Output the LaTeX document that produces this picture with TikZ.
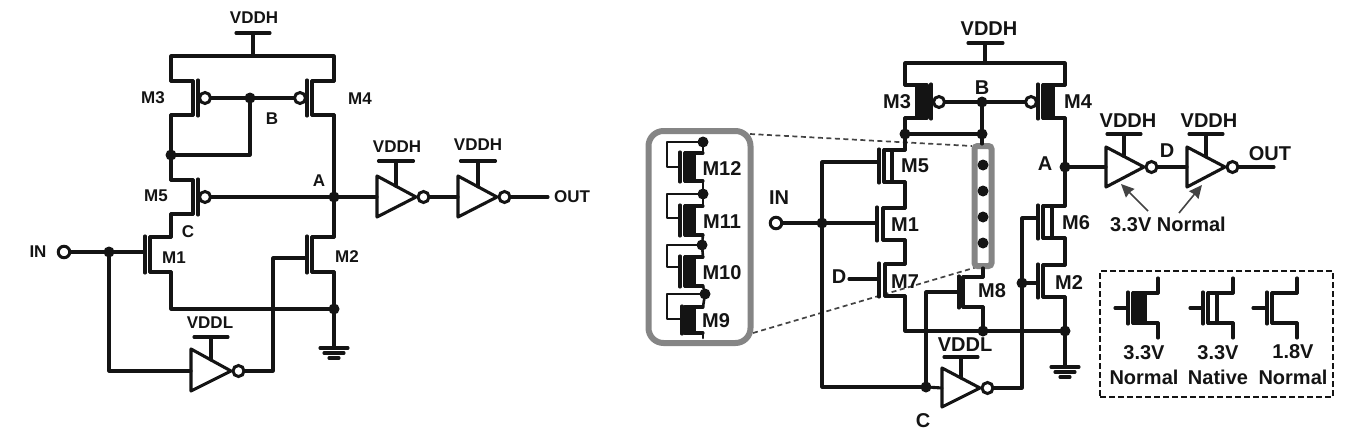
\documentclass[tikz,border=0pt]{standalone}
\usepackage{fontspec}
\setmainfont{Liberation Sans}
\usetikzlibrary{arrows.meta}
\definecolor{ink}{HTML}{141414}
\definecolor{boxgray}{HTML}{858585}
\tikzset{
  wire/.style={draw=ink,line width=3.1pt,line cap=round,line join=round},
  thinwire/.style={wire,line width=2.6pt},
  dot/.style={circle,fill=ink,draw=none,minimum size=11pt,inner sep=0pt,outer sep=0pt},
  dotl/.style={dot,minimum size=11pt},
  bubble/.style={circle,draw=ink,line width=3pt,fill=white,minimum size=11pt,inner sep=0pt,outer sep=0pt},
  ringin/.style={bubble,minimum size=11.5pt},
  lblL/.style={inner sep=0pt,text=ink,font=\fontsize{17}{17}\selectfont\bfseries},
  lblR/.style={inner sep=0pt,text=ink,font=\fontsize{20}{20}\selectfont\bfseries},
  zoomline/.style={draw=ink!80,line width=1.7pt,dash pattern=on 5pt off 3.5pt},
  graybox/.style={draw=boxgray,line width=6pt,fill=white,inner sep=0pt,outer sep=0pt},
  pointer/.style={draw=ink!80,line width=1.6pt,-{Stealth[length=13pt,width=12pt,inset=1pt]}},
  legendbox/.style={draw=ink,line width=2.4pt,dash pattern=on 6pt off 3pt,inner sep=0pt,outer sep=0pt},
}
% [channel fill]{name}{gate x}{chan x}{chan x2}{y top}{y bottom}{rail x}{gate y}
\newcommand\mosdev[9][fill=none]{%
  \coordinate (#2-g) at (#3,#9);
  \coordinate (#2-d) at (#8,#6);
  \coordinate (#2-s) at (#8,#7);
  \draw[wire] (#4,#6) -- (#2-d);
  \draw[wire] (#4,#7) -- (#2-s);
  \draw[wire,#1] (#4,#6) rectangle (#5,#7);
  \draw[wire] (#3,#6-1) -- (#3,#7+1);
}
% {name}{x}{y top}{y bottom}{x tip}{y mid}{stem x}{bar half width}{bar y}
\newcommand\invdev[9]{%
  \coordinate (#1-in) at (#2,#6);
  \coordinate (#1-bar) at (#7,#9);
  \draw[wire] (#2,#3) -- (#2,#4) -- (#5,#6) -- cycle;
  \node[bubble] (#1-o) at (#5+7.5,#6) {};
  \draw[wire] (#1-bar) -- (#7,{#3+(#7-#2)*(#6-#3)/(#5-#2)});
  \draw[wire] (#7-#8,#9) -- (#7+#8,#9);
}
\newcommand\gnddev[2]{%
  \draw[wire] (#1,#2) ++(-14,0) -- ++(28,0);
  \draw[wire] (#1,#2) ++(-10,5) -- ++(20,0);
  \draw[wire] (#1,#2) ++(-5,10) -- ++(10,0);
}
\begin{document}
\begin{tikzpicture}[x=1pt,y=-1pt]
\useasboundingbox (0,0) rectangle (1369,442);

%%% LEFT CIRCUIT
\coordinate (LtopL) at (171,56);
\coordinate (LtopR) at (334,56);
\coordinate (Lvdd) at (253,56);
\coordinate (Lvddbar) at (253,33);
\draw[wire] (236,33) -- (270,33);
\draw[wire] (Lvddbar) -- (Lvdd);
\mosdev{LM3}{198}{193}{193}{81}{115}{171}{98}
\mosdev{LM4}{307}{312}{312}{81}{115}{334}{98}
\mosdev{LM5}{198}{193}{193}{180}{214}{171}{197}
\mosdev{LM1}{145}{150}{150}{237}{272}{171}{252}
\mosdev{LM2}{307}{312}{312}{237}{272}{334}{258}
\draw[wire] (LM3-d) -- (LtopL) -- (LtopR) -- (LM4-d);
\node[bubble] (LM3b) at (205,98) {};
\node[bubble] (LM4b) at (300,98) {};
\node[bubble] (LM5b) at (205,197) {};
\node[dotl] (LB) at (250,98) {};
\node[dotl] (LJ) at (171,155) {};
\node[dotl] (LA) at (334,197) {};
\node[dotl] (LG) at (334,309) {};
\node[dotl] (LIN) at (109,252) {};
\node[ringin] (Lin) at (64,252) {};
\draw[wire] (LM3b) -- (LB) -- (LM4b);
\draw[wire] (LB) |- (LJ);
\draw[wire] (LM3-s) -- (LJ) -- (LM5-d);
\draw[wire] (LM5b) -- (LA);
\draw[wire] (LM4-s) -- (LA) -- (LM2-d);
\draw[wire] (LM5-s) -- (LM1-d);
\draw[wire] (LM1-s) |- (LG);
\draw[wire] (LM2-s) -- (LG);
\coordinate (Lgnd) at (334,348);
\draw[wire] (LG) -- (Lgnd);
\gnddev{334}{348}
\draw[wire] (Lin) -- (LIN) -- (LM1-g);
\invdev{LI3}{191}{349}{391}{231}{371}{211}{17}{337}
\draw[wire] (LIN) |- (LI3-in);
\coordinate (LI3c) at (273,371);
\draw[wire] (LI3-o) -- (LI3c) |- (LM2-g);
\invdev{LI1}{377}{176}{217}{416}{197}{396}{17.5}{161}
\invdev{LI2}{458}{176}{217}{497}{197}{478}{17.5}{161}
\coordinate (Lout) at (548,197);
\draw[wire] (LA) -- (LI1-in);
\draw[wire] (LI1-o) -- (LI2-in);
\draw[wire] (LI2-o) -- (Lout);

\node[lblL] (t1) at (254,18) {VDDH};
\node[lblL] (t2) at (153,98) {M3};
\node[lblL] (t3) at (360,99) {M4};
\node[lblL] (t4) at (272,119) {B};
\node[lblL] (t5) at (319,181) {A};
\node[lblL] (t6) at (156,196) {M5};
\node[lblL] (t7) at (188,232) {C};
\node[lblL] (t8) at (174,258) {M1};
\node[lblL] (t9) at (347,257) {M2};
\node[lblL] (t10) at (38,252) {IN};
\node[lblL] (t11) at (210,323) {VDDL};
\node[lblL] (t12) at (397,147) {VDDH};
\node[lblL] (t13) at (478,145) {VDDH};
\node[lblL] (t14) at (572,197) {OUT};

%%% RIGHT CIRCUIT
\coordinate (Rz1) at (750,134);
\coordinate (Rz2) at (972,146);
\coordinate (Rz3) at (753,333);
\coordinate (Rz4) at (977,267);
\draw[zoomline] (Rz1) -- (Rz2);
\draw[zoomline] (Rz3) -- (Rz4);

% magnified stack
\node[graybox,rounded corners=15pt,minimum width=102pt,minimum height=212pt] (big) at (699.5,237) {};
\newcommand\stackdev[9]{%
  \mosdev[fill=ink]{#1}{#2}{685}{694}{#3}{#4}{703}{#5}
  \node[dotl] (#1-t) at (#6,#7) {};
  \coordinate (#1-c) at (667,#7);
  \draw[thinwire] (#1-t) -- (#1-c) |- (#1-g);
  \draw[thinwire] (#1-t) -- (#1-d);
  \node[lblR] (#1-l) at (#8,#9) {\MakeUppercase{#1}};
}
\stackdev{m12}{680}{153}{181}{167}{703}{142}{722}{169}
\stackdev{m11}{680}{206}{235}{218}{703}{194}{722}{222}
\stackdev{m10}{680}{257}{286}{267}{702}{245}{722}{273}
\stackdev{m9}{682}{307}{333}{319}{705}{294}{716}{321}
\draw[thinwire] (m12-s) -- (m11-t);
\draw[thinwire] (m11-s) -- (m10-t);
\draw[thinwire] (m10-s) -- (m9-t);
\coordinate (m9end) at (703,338);
\draw[thinwire] (m9-s) -- (m9end);

% narrow gray box
\node[graybox,rounded corners=3pt,minimum width=17pt,minimum height=120pt] (slim) at (983,206) {};
\node[dotl] (s1) at (983,165) {};
\node[dotl] (s2) at (983,191) {};
\node[dotl] (s3) at (983,217) {};
\node[dotl] (s4) at (983,243) {};

\coordinate (RtopL) at (905,63);
\coordinate (RtopR) at (1065,63);
\coordinate (Rvdd) at (985,63);
\coordinate (Rvddbar) at (985,43);
\draw[wire] (968,43) -- (1003,43);
\draw[wire] (Rvddbar) -- (Rvdd);
\mosdev[fill=ink]{M3}{931}{917}{927}{85}{118}{905}{102}
\mosdev[fill=ink]{M4}{1038}{1043}{1053}{85}{118}{1065}{102}
\mosdev[fill=white]{M5}{879}{884}{892}{150}{182}{905}{162}
\mosdev{M1}{877}{883}{883}{208}{240}{905}{223}
\mosdev{M7}{879}{885}{885}{264}{296}{905}{279}
\mosdev{M8}{959}{963}{963}{277}{307}{983}{292}
\mosdev[fill=white]{M6}{1038}{1043}{1052}{206}{238}{1065}{218}
\mosdev{M2}{1038}{1043}{1043}{265}{297}{1065}{283}
\draw[wire] (M3-d) -- (RtopL) -- (RtopR) -- (M4-d);
\node[bubble] (M3b) at (939,102) {};
\node[bubble] (M4b) at (1031,102) {};
\node[dotl] (RB) at (982,102) {};
\node[dotl] (RJ1) at (905,134) {};
\node[dotl] (RJ2) at (982,134) {};
\node[dotl] (RA) at (1065,167) {};
\node[dotl] (RIN) at (822,223) {};
\node[ringin] (Rin) at (776,223) {};
\node[dotl] (RS) at (983,331) {};
\node[dotl] (RG) at (1065,331) {};
\node[dotl] (RC) at (926,387) {};
\node[dotl] (RI) at (1022,283) {};
\draw[wire] (M3b) -- (RB) -- (M4b);
\draw[wire] (RB) -- (RJ2) -- (RJ1);
\coordinate (slimtop) at (982,144);
\draw[wire] (RJ2) -- (slimtop);
\draw[wire] (M3-s) -- (RJ1) -- (M5-d);
\draw[wire] (M5-s) -- (M1-d);
\draw[wire] (M1-s) -- (M7-d);
\draw[wire] (M4-s) -- (RA) -- (M6-d);
\draw[wire] (M6-s) -- (M2-d);
\draw[wire] (M2-s) -- (RG);
\draw[wire] (M7-s) |- (RS);
\draw[wire] (RS) -- (RG);
\draw[wire] (M8-s) -- (RS);
\coordinate (slimbot) at (983,268);
\draw[wire] (slimbot) -- (M8-d);
\draw[wire] (RG) -- (1065,367);
\gnddev{1065}{367}
\coordinate (RLtop) at (822,162);
\draw[wire] (M5-g) -- (RLtop) -- (RIN);
\draw[wire] (Rin) -- (RIN) -- (M1-g);
\coordinate (RLbot) at (822,387);
\draw[wire] (RIN) -- (RLbot) -- (RC);
\invdev{RI3}{942}{368}{407}{980}{388}{961}{17}{357}
\draw[wire] (RC) -- (RI3-in);
\coordinate (M8up) at (926,292);
\draw[wire] (RC) -- (M8up) -- (M8-g);
\coordinate (RI3c) at (1022,388);
\coordinate (M6up) at (1022,218);
\draw[wire] (RI3-o) -- (RI3c) -- (M6up) -- (M6-g);
\draw[wire] (RI) -- (M2-g);
\coordinate (Dend) at (849,279);
\draw[wire] (Dend) -- (M7-g);
\invdev{RI1}{1106}{147}{187}{1144}{167}{1124}{17}{134}
\invdev{RI2}{1187}{147}{187}{1225}{167}{1206}{17}{134}
\coordinate (Rout) at (1274,167);
\draw[wire] (RA) -- (RI1-in);
\draw[wire] (RI1-o) -- (RI2-in);
\draw[wire] (RI2-o) -- (Rout);
\coordinate (A1s) at (1148,211);
\coordinate (A1e) at (1121,184);
\coordinate (A2s) at (1179,213);
\coordinate (A2e) at (1202,185);
\draw[pointer] (A1s) -- (A1e);
\draw[pointer] (A2s) -- (A2e);

\node[lblR] (r1) at (989,29) {VDDH};
\node[lblR] (r2) at (982,88) {B};
\node[lblR] (r3) at (897,102) {M3};
\node[lblR] (r4) at (1078,102) {M4};
\node[lblR] (r5) at (1045,164) {A};
\node[lblR] (r6) at (915,166) {M5};
\node[lblR] (r7) at (779,198) {IN};
\node[lblR] (r8) at (905,225) {M1};
\node[lblR] (r9) at (1076,223) {M6};
\node[lblR] (r10) at (839,277) {D};
\node[lblR] (r11) at (905,282) {M7};
\node[lblR] (r12) at (992,291) {M8};
\node[lblR] (r13) at (1069,283) {M2};
\node[lblR] (r14) at (965,345) {VDDL};
\node[lblR] (r15) at (923,421) {C};
\node[lblR] (r16) at (1128,121) {VDDH};
\node[lblR] (r17) at (1209,121) {VDDH};
\node[lblR] (r18) at (1167,151) {D};
\node[lblR] (r19) at (1270,154) {OUT};
\node[lblR] (r20) at (1168,224) {3.3V Normal};

%%% LEGEND
\node[legendbox,minimum width=233pt,minimum height=126pt] (legend) at (1216.5,334) {};
\mosdev[fill=ink]{K1}{1128}{1133}{1145}{293}{323}{1158}{308}
\mosdev[fill=white]{K2}{1203}{1208}{1217}{293}{323}{1233}{308}
\mosdev{K3}{1267}{1272}{1272}{293}{323}{1297}{308}
\coordinate (K1a) at (1115,308);
\coordinate (K2a) at (1190,308);
\coordinate (K3a) at (1253,308);
\draw[wire] (K1a) -- (K1-g);
\draw[wire] (K2a) -- (K2-g);
\draw[wire] (K3a) -- (K3-g);
\coordinate (K1u) at (1158,278);
\coordinate (K1v) at (1158,338);
\coordinate (K2u) at (1233,278);
\coordinate (K2v) at (1233,338);
\coordinate (K3u) at (1297,278);
\coordinate (K3v) at (1297,338);
\draw[wire] (K1u) -- (K1-d);
\draw[wire] (K1-s) -- (K1v);
\draw[wire] (K2u) -- (K2-d);
\draw[wire] (K2-s) -- (K2v);
\draw[wire] (K3u) -- (K3-d);
\draw[wire] (K3-s) -- (K3v);
\node[lblR] (k1) at (1144,353) {3.3V};
\node[lblR] (k2) at (1144,377) {Normal};
\node[lblR] (k3) at (1218,353) {3.3V};
\node[lblR] (k4) at (1218,377) {Native};
\node[lblR] (k5) at (1293,352) {1.8V};
\node[lblR] (k6) at (1293,377) {Normal};
\end{tikzpicture}
\end{document}
